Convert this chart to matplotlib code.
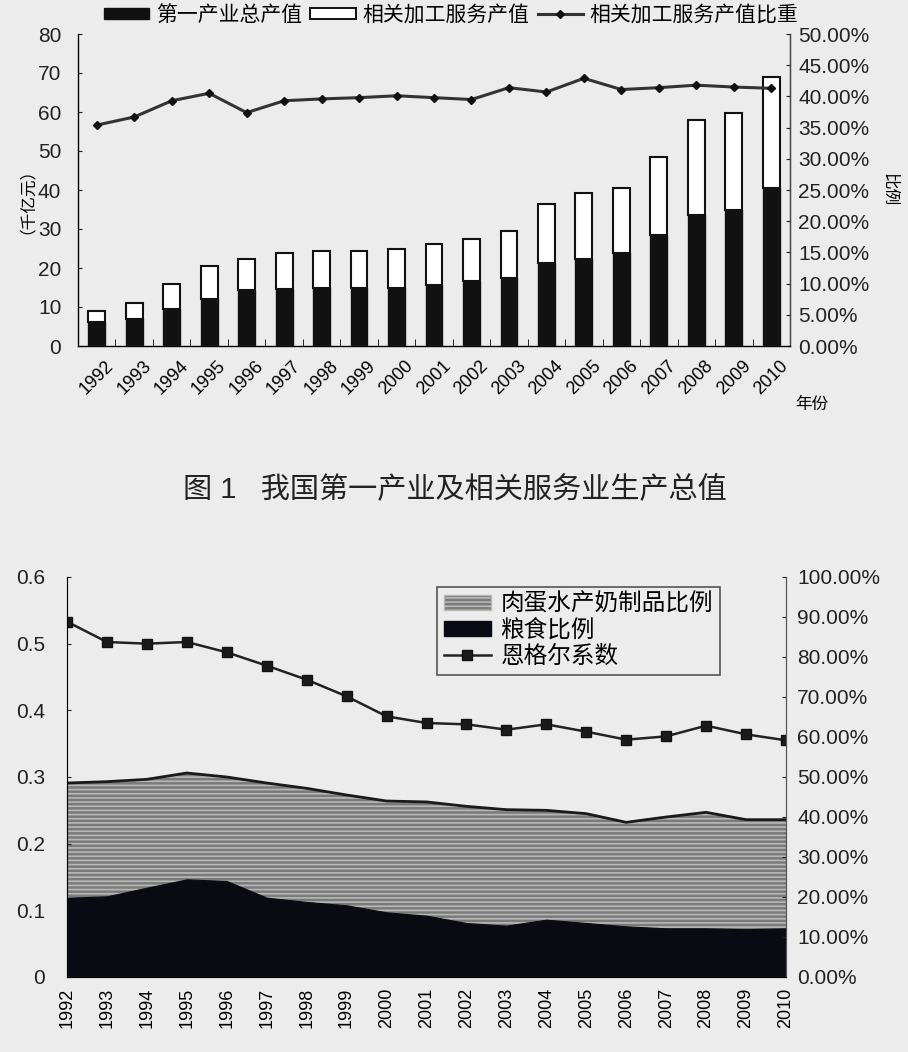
import matplotlib
matplotlib.use("Agg")
import matplotlib.pyplot as plt
import numpy as np
from matplotlib.patches import Patch
from matplotlib.lines import Line2D
from matplotlib.ticker import FuncFormatter

plt.rcParams['font.family'] = ['Liberation Sans', 'Noto Sans CJK SC', 'DejaVu Sans']
plt.rcParams['hatch.linewidth'] = 1.2

# ---------------- data ----------------
years = [str(y) for y in range(1992, 2011)]

# Figure 1 (千亿元)
primary_output = [6.2, 6.8, 9.4, 12.0, 14.3, 14.5, 14.9, 14.9, 14.9, 15.7, 16.6, 17.5,
                  21.4, 22.2, 23.8, 28.4, 33.5, 34.8, 40.5]
total_output = [9.0, 11.1, 16.0, 20.5, 22.2, 23.9, 24.4, 24.3, 25.0, 26.1, 27.4, 29.4,
                36.3, 39.2, 40.5, 48.4, 57.9, 59.8, 69.0]
service_share = [35.4, 36.7, 39.3, 40.5, 37.4, 39.3, 39.6, 39.8, 40.1, 39.8, 39.5, 41.4,
                 40.7, 42.9, 41.1, 41.4, 41.8, 41.5, 41.3]  # %

# Figure 2
meat_ratio = [0.291, 0.293, 0.2965, 0.306, 0.300, 0.291, 0.283, 0.273, 0.264, 0.2626,
              0.256, 0.251, 0.250, 0.245, 0.232, 0.240, 0.247, 0.236, 0.236]
grain_ratio = [0.119, 0.121, 0.134, 0.1465, 0.144, 0.119, 0.1126, 0.1076, 0.097, 0.092,
               0.081, 0.077, 0.086, 0.081, 0.076, 0.073, 0.073, 0.0717, 0.073]
engel = [0.533, 0.5025, 0.500, 0.5025, 0.487, 0.467, 0.446, 0.421, 0.391, 0.381,
         0.379, 0.371, 0.379, 0.368, 0.356, 0.361, 0.377, 0.364, 0.355]

service_output = [t - p for t, p in zip(total_output, primary_output)]

bg = '#ececec'
W, H = 908, 1052
fig = plt.figure(figsize=(W / 100, H / 100), dpi=100, facecolor=bg)

def rect(l, t, r, b):
    return [l / W, 1 - b / H, (r - l) / W, (b - t) / H]

# ---------------- top chart ----------------
ax1 = fig.add_axes(rect(78, 34, 790, 346), facecolor=bg)
x = np.arange(len(years))
ax1.bar(x, primary_output, width=0.45, color='#111111', edgecolor='#111111', linewidth=1.0, zorder=2)
ax1.bar(x, service_output, width=0.45, bottom=primary_output, color='white',
        edgecolor='#111111', linewidth=1.5, zorder=2)
ax1.set_xlim(-0.5, len(years) - 0.5)
ax1.set_ylim(0, 80)
ax1.set_yticks(range(0, 81, 10))
ax1.tick_params(axis='y', direction='in', length=3, labelsize=15, pad=12, colors='#222222')
ax1.set_xticks(x)
ax1.set_xticklabels(years, rotation=45, ha='center', va='top', fontsize=13)
ax1.tick_params(axis='x', length=0, pad=8)
ax1.set_xticks(np.arange(-0.5, len(years), 1), minor=True)
ax1.tick_params(axis='x', which='minor', direction='in', length=5)
ax1.spines['top'].set_visible(False)
for s in ['left', 'bottom', 'right']:
    ax1.spines[s].set_color('#444444')
    ax1.spines[s].set_linewidth(1.0)

ax1r = ax1.twinx()
ax1r.plot(x, service_share, color='#333333', lw=2.2, marker='D', ms=4.5,
          mfc='#111111', mec='#111111', zorder=3)
ax1r.set_ylim(0, 50)
ax1r.set_yticks(np.arange(0, 50.1, 5))
ax1r.yaxis.set_major_formatter(FuncFormatter(lambda v, p: f'{v:.2f}%'))
ax1r.tick_params(axis='y', direction='in', length=3, labelsize=15, pad=6, colors='#222222')
ax1r.spines['top'].set_visible(False)
ax1r.spines['right'].set_color('#444444')

fig.text(18 / W, 1 - 192 / H, '（千亿元）', rotation=90, fontsize=12, ha='center', va='center')
fig.text(890 / W, 1 - 190 / H, '比例', rotation=270, fontsize=12, ha='center', va='center')
fig.text(812 / W, 1 - 404 / H, '年份', fontsize=12, ha='center', va='center')

handles1 = [Patch(facecolor='#111111', edgecolor='#111111'),
            Patch(facecolor='white', edgecolor='#111111', linewidth=1.4),
            Line2D([], [], color='#333333', lw=2.2, marker='D', ms=4.5, mfc='#111111', mec='#111111')]
labels1 = ['第一产业总产值', '相关加工服务产值', '相关加工服务产值比重']
fig.legend(handles1, labels1, loc='center', bbox_to_anchor=(451 / W, 1 - 15 / H), ncol=3,
           frameon=False, fontsize=15, handlelength=2.2, handleheight=0.5,
           handletextpad=0.3, columnspacing=0.4, borderpad=0)

fig.text(455 / W, 1 - 490 / H, '图 1   我国第一产业及相关服务业生产总值', fontsize=21,
         ha='center', va='center', color='#222222')

# ---------------- bottom chart ----------------
ax2 = fig.add_axes(rect(67, 577, 786, 977), facecolor=bg)
ax2.fill_between(x, 0, meat_ratio, facecolor='#7a7a7a', edgecolor='#b8b8b8', hatch='----',
                 linewidth=0, zorder=1)
ax2.plot(x, meat_ratio, color='#1a1a1a', lw=2.0, zorder=2)
ax2.fill_between(x, 0, grain_ratio, facecolor='#0a0a12', edgecolor='#0a0a12', linewidth=0.8, zorder=2)
ax2.plot(x, engel, color='#222222', lw=1.8, marker='s', ms=7, mfc='#1a1a1a', mec='#111111', zorder=4)
ax2.set_xlim(0, len(years) - 1)
ax2.set_ylim(0, 0.6)
ax2.set_yticks(np.arange(0, 0.61, 0.1))
ax2.yaxis.set_major_formatter(FuncFormatter(lambda v, p: '0' if abs(v) < 1e-9 else f'{v:.1f}'))
ax2.tick_params(axis='y', direction='in', length=3, labelsize=15, pad=16, colors='#222222')
ax2.set_xticks(x)
ax2.set_xticklabels(years, rotation=90, ha='center', va='top', fontsize=13)
ax2.tick_params(axis='x', length=0, pad=8)
ax2.spines['top'].set_visible(False)
for s in ['left', 'bottom', 'right']:
    ax2.spines[s].set_color('#555555')

ax2r = ax2.twinx()
ax2r.set_ylim(0, 100)
ax2r.set_yticks(np.arange(0, 100.1, 10))
ax2r.yaxis.set_major_formatter(FuncFormatter(lambda v, p: f'{v:.2f}%'))
ax2r.tick_params(axis='y', direction='in', length=3, labelsize=15, pad=8, colors='#222222')
ax2r.spines['top'].set_visible(False)
ax2r.spines['right'].set_color('#555555')

handles2 = [Patch(facecolor='#7a7a7a', edgecolor='#b8b8b8', hatch='----', linewidth=1.0),
            Patch(facecolor='#0a0a12', edgecolor='#0a0a12'),
            Line2D([], [], color='#222222', lw=1.8, marker='s', ms=7, mfc='#1a1a1a', mec='#111111')]
labels2 = ['肉蛋水产奶制品比例', '粮食比例', '恩格尔系数']
leg2 = ax2.legend(handles2, labels2, loc='upper left', bbox_to_anchor=((425 - 67) / 719, 1 + 2 / 400),
                  fontsize=17, frameon=True, fancybox=False, edgecolor='#555555',
                  facecolor=bg, framealpha=1, handlelength=2.0, handleheight=0.6,
                  handletextpad=0.4, labelspacing=0.15, borderpad=0.3)
leg2.get_frame().set_linewidth(1.2)
leg2.set_zorder(5)

fig.savefig('out.png', dpi=100, facecolor=bg)
